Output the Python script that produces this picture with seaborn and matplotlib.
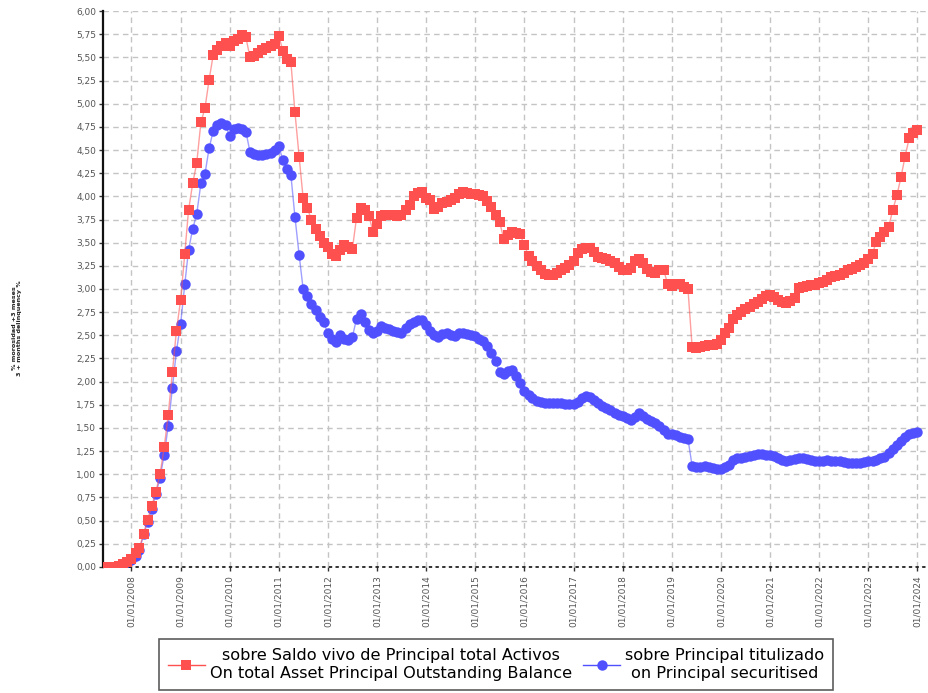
import pandas as pd
import matplotlib
matplotlib.use("Agg")
import matplotlib.pyplot as plt
import matplotlib.dates as mdates
from matplotlib.ticker import MultipleLocator, FuncFormatter
import seaborn as sns

# monthly dates, Jul 2007 .. Jan 2024
fechas = pd.date_range("2007-07-01", "2024-01-01", freq="MS")

label_red = "sobre Saldo vivo de Principal total Activos\nOn total Asset Principal Outstanding Balance"
label_blue = "sobre Principal titulizado\non Principal securitised"

# % morosidad +3 meses sobre saldo vivo total activos
red_values = [
    0.0, 0.0, 0.0, 0.01, 0.03, 0.05,                                        # 2007
    0.08, 0.15, 0.20, 0.36, 0.51, 0.66, 0.81, 1.00, 1.29, 1.64, 2.10, 2.55,  # 2008
    2.88, 3.38, 3.85, 4.14, 4.36, 4.80, 4.95, 5.26, 5.53, 5.58, 5.62, 5.66,  # 2009
    5.62, 5.68, 5.70, 5.74, 5.72, 5.50, 5.52, 5.55, 5.58, 5.60, 5.62, 5.64,  # 2010
    5.73, 5.57, 5.48, 5.45, 4.91, 4.43, 3.98, 3.87, 3.75, 3.65, 3.57, 3.50,  # 2011
    3.45, 3.38, 3.36, 3.42, 3.48, 3.45, 3.43, 3.77, 3.87, 3.85, 3.79, 3.62,  # 2012
    3.70, 3.79, 3.80, 3.80, 3.80, 3.79, 3.80, 3.85, 3.91, 4.00, 4.04, 4.05,  # 2013
    3.98, 3.96, 3.86, 3.88, 3.93, 3.94, 3.96, 3.98, 4.03, 4.05, 4.04, 4.03,  # 2014
    4.02, 4.01, 4.00, 3.95, 3.89, 3.80, 3.72, 3.54, 3.58, 3.61, 3.60, 3.59,  # 2015
    3.47, 3.36, 3.30, 3.25, 3.20, 3.16, 3.15, 3.15, 3.17, 3.20, 3.23, 3.26,  # 2016
    3.30, 3.39, 3.43, 3.44, 3.44, 3.40, 3.35, 3.33, 3.32, 3.30, 3.28, 3.24,  # 2017
    3.21, 3.21, 3.23, 3.30, 3.32, 3.28, 3.22, 3.18, 3.17, 3.20, 3.21, 3.05,  # 2018
    3.03, 3.05, 3.05, 3.02, 3.00, 2.37, 2.36, 2.37, 2.38, 2.40, 2.39, 2.41,  # 2019
    2.45, 2.52, 2.58, 2.68, 2.72, 2.75, 2.78, 2.81, 2.84, 2.86, 2.89, 2.92,  # 2020
    2.94, 2.91, 2.88, 2.86, 2.85, 2.87, 2.90, 3.01, 3.02, 3.03, 3.04, 3.04,  # 2021
    3.06, 3.08, 3.10, 3.13, 3.14, 3.15, 3.17, 3.20, 3.22, 3.24, 3.26, 3.28,  # 2022
    3.32, 3.38, 3.51, 3.56, 3.62, 3.67, 3.85, 4.01, 4.21, 4.43, 4.63, 4.68,  # 2023
    4.72,                                                                    # 2024
]

# % morosidad +3 meses sobre principal titulizado
blue_values = [
    0.0, 0.0, 0.0, 0.01, 0.02, 0.04,                                        # 2007
    0.07, 0.12, 0.18, 0.35, 0.48, 0.62, 0.79, 0.96, 1.21, 1.52, 1.93, 2.33,  # 2008
    2.62, 3.05, 3.42, 3.65, 3.81, 4.14, 4.24, 4.52, 4.71, 4.77, 4.79, 4.77,  # 2009
    4.65, 4.73, 4.74, 4.73, 4.70, 4.48, 4.46, 4.45, 4.45, 4.46, 4.47, 4.50,  # 2010
    4.54, 4.39, 4.30, 4.23, 3.78, 3.37, 3.00, 2.92, 2.84, 2.77, 2.70, 2.64,  # 2011
    2.52, 2.46, 2.43, 2.50, 2.46, 2.45, 2.48, 2.68, 2.73, 2.64, 2.56, 2.52,  # 2012
    2.55, 2.60, 2.58, 2.57, 2.55, 2.54, 2.52, 2.58, 2.62, 2.64, 2.67, 2.66,  # 2013
    2.61, 2.55, 2.50, 2.48, 2.51, 2.52, 2.50, 2.49, 2.52, 2.53, 2.51, 2.50,  # 2014
    2.49, 2.46, 2.44, 2.38, 2.31, 2.22, 2.10, 2.08, 2.11, 2.12, 2.06, 1.98,  # 2015
    1.90, 1.86, 1.82, 1.79, 1.78, 1.77, 1.77, 1.77, 1.77, 1.77, 1.76, 1.76,  # 2016
    1.76, 1.78, 1.82, 1.84, 1.83, 1.80, 1.77, 1.74, 1.72, 1.69, 1.66, 1.64,  # 2017
    1.63, 1.61, 1.59, 1.62, 1.66, 1.63, 1.60, 1.57, 1.55, 1.52, 1.48, 1.43,  # 2018
    1.43, 1.42, 1.40, 1.39, 1.38, 1.09, 1.08, 1.08, 1.09, 1.08, 1.07, 1.06,  # 2019
    1.06, 1.08, 1.10, 1.15, 1.17, 1.18, 1.19, 1.20, 1.21, 1.22, 1.22, 1.21,  # 2020
    1.21, 1.20, 1.17, 1.15, 1.14, 1.15, 1.16, 1.17, 1.17, 1.16, 1.15, 1.14,  # 2021
    1.14, 1.14, 1.15, 1.14, 1.14, 1.14, 1.13, 1.12, 1.12, 1.12, 1.12, 1.13,  # 2022
    1.14, 1.14, 1.15, 1.17, 1.19, 1.23, 1.27, 1.32, 1.36, 1.40, 1.43, 1.44,  # 2023
    1.46,                                                                    # 2024
]

df = pd.concat([
    pd.DataFrame({"fecha": fechas, "valor": red_values, "serie": label_red}),
    pd.DataFrame({"fecha": fechas, "valor": blue_values, "serie": label_blue}),
])

RED = "#ff5050"
BLUE = "#5050ff"

fig = plt.figure(figsize=(9.29, 6.93), dpi=100)
ax = fig.add_axes([0.111, 0.182, 0.888, 0.802])

sns.lineplot(data=df, x="fecha", y="valor", hue="serie", style="serie",
             hue_order=[label_blue, label_red],
             palette={label_red: RED, label_blue: BLUE},
             markers={label_red: "s", label_blue: "o"}, dashes=False,
             markersize=7.5, markeredgewidth=0, linewidth=1, ax=ax)

# thin translucent connecting lines, solid markers
for line, col in zip(ax.lines[:2], [BLUE, RED]):
    rgb = matplotlib.colors.to_rgb(col)
    line.set_color(rgb + (0.55,))
    line.set_markerfacecolor(col)
    line.set_markeredgecolor(col)
ax.lines[1].set_zorder(3)

handles, labels = ax.get_legend_handles_labels()
ax.get_legend().remove()
order = [labels.index(label_red), labels.index(label_blue)]
leg = fig.legend([handles[i] for i in order], [labels[i] for i in order],
                 loc="upper center", bbox_to_anchor=(0.534, 0.078), ncol=2,
                 fontsize=11.6, frameon=True, fancybox=False, edgecolor="#333333",
                 handlelength=2.3, handletextpad=0.3, columnspacing=0.7,
                 borderpad=0.55, borderaxespad=0.0, labelspacing=0.2)
leg.get_frame().set_linewidth(1.2)
for t in leg.get_texts():
    t.set_multialignment("center")
    t.set_linespacing(1.3)
for h in leg.legend_handles:
    h.set_markeredgewidth(0)
    h.set_markersize(7.5)

# axes styling
ax.set_ylim(0, 6)
ax.set_xlim(pd.Timestamp("2007-06-05"), pd.Timestamp("2024-03-20"))
ax.yaxis.set_major_locator(MultipleLocator(0.25))
ax.yaxis.set_major_formatter(FuncFormatter(lambda v, p: f"{v:.2f}".replace(".", ",")))
ax.xaxis.set_major_locator(mdates.YearLocator())
ax.xaxis.set_major_formatter(mdates.DateFormatter("%d/%m/%Y"))
ax.tick_params(axis="x", labelrotation=90, labelsize=6.5, labelcolor="#555555",
               length=3, width=1, color="#333333", pad=3)
ax.tick_params(axis="y", labelsize=6.5, labelcolor="#555555",
               length=3, width=1, color="#333333", pad=2)

ax.grid(True, color="#c4c4c4", linestyle=(0, (4, 3)), linewidth=1)
ax.set_axisbelow(True)
for s in ["top", "right"]:
    ax.spines[s].set_visible(False)
ax.spines["left"].set_color("#111111")
ax.spines["left"].set_linewidth(1.6)
ax.spines["bottom"].set_color("#111111")
ax.spines["bottom"].set_linestyle((0, (1, 3)))
ax.spines["bottom"].set_linewidth(1.2)

ax.set_xlabel("")
ax.set_ylabel("% morosidad +3 meses\n3 + months delinquency %", fontsize=4.6,
              fontweight="bold", color="#222222", linespacing=1.1)
ax.yaxis.set_label_coords(-0.098, 0.43)

fig.savefig("out.png", dpi=100)
